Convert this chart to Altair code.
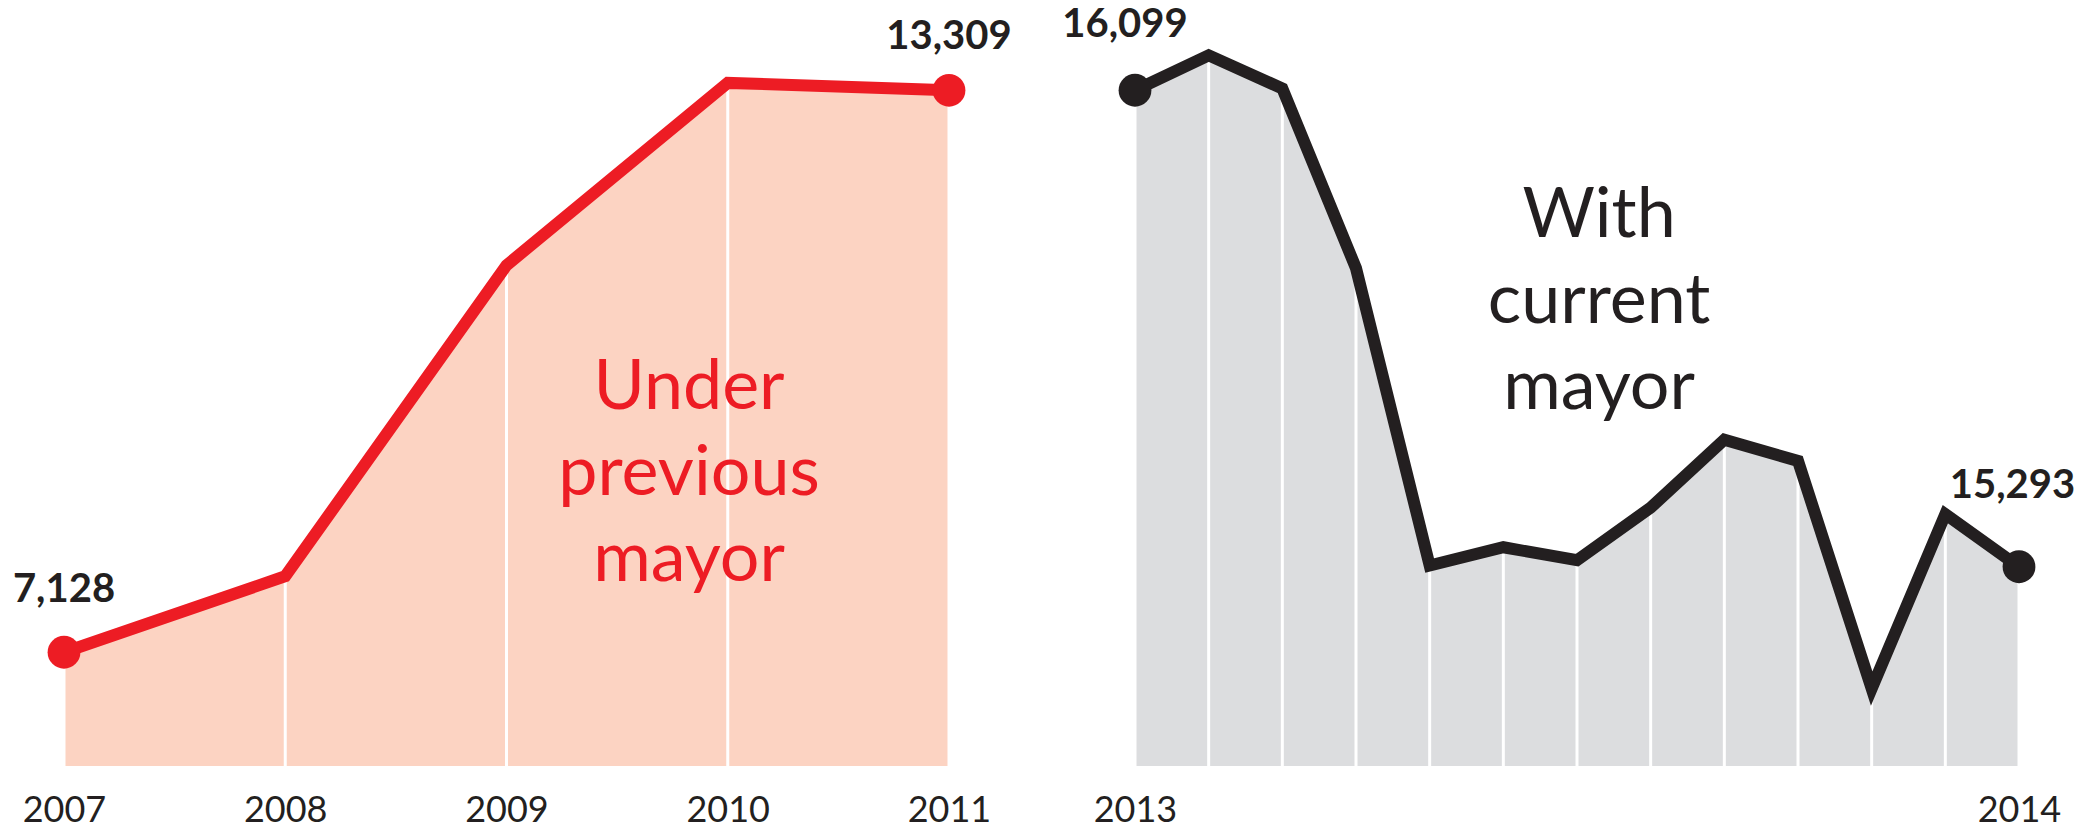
import altair as alt
import pandas as pd

# ---------------- data ----------------
left_years = [2007, 2008, 2009, 2010, 2011]
left_values = [7128, 7964, 11384, 13390, 13309]
left_tick_labels = ["2007", "2008", "2009", "2010", "2011"]

right_index = list(range(13))
right_values = [16099, 16158, 16102, 15798, 15295, 15326, 15304,
                15393, 15508, 15472, 15087, 15382, 15293]
right_tick_positions = [0, 12]
right_tick_labels = ["2013", "2014"]

left_note = "Under\nprevious\nmayor"
right_note = "With\ncurrent\nmayor"
left_note_pos = [2009.825, 9800]
right_note_pos = [6.3, 15850]

left_y_domain = [5877, 13862]
right_y_domain = [14956, 16184]

RED = "#ED1C24"
PEACH = "#FCD3C2"
BLACK = "#231F20"
GREY = "#DCDDDF"
FONT = "Lato"


def panel(xs, vals, x_domain, y_domain, width, line_color, fill_color,
          axis, label_offsets, note_text, note_pos, note_color):
    df = pd.DataFrame({"x": xs, "value": vals})
    x = alt.X("x:Q", scale=alt.Scale(domain=x_domain, nice=False, zero=False),
              axis=axis, title=None)
    y = alt.Y("value:Q", scale=alt.Scale(domain=y_domain, nice=False, zero=False),
              axis=None, title=None)
    base = alt.Chart(df)
    area = base.mark_area(color=fill_color, opacity=1).encode(
        x=x, y=y, y2=alt.datum(y_domain[0]))
    rules = base.mark_rule(color="white", strokeWidth=3).encode(
        x=x, y=y, y2=alt.datum(y_domain[0]))
    line = base.mark_line(color=line_color, strokeWidth=12, strokeJoin="miter",
                          strokeMiterLimit=10).encode(x=x, y=y)
    ends = pd.DataFrame({"x": [xs[0], xs[-1]], "value": [vals[0], vals[-1]]})
    dots = alt.Chart(ends).mark_circle(size=1075, color=line_color, opacity=1).encode(x=x, y=y)
    layers = [area, rules, line, dots]
    for i, (dx, dy) in enumerate(label_offsets):
        one = ends.iloc[[i]]
        layers.append(
            alt.Chart(one).mark_text(font=FONT, fontWeight="bold", fontSize=40,
                                     color=BLACK, align="center", baseline="alphabetic",
                                     dx=dx, dy=dy).encode(
                x=x, y=y, text=alt.Text("value:Q", format=","))
        )
    note_df = pd.DataFrame({"x": [note_pos[0]], "value": [note_pos[1]], "t": [note_text]})
    layers.append(
        alt.Chart(note_df).mark_text(font=FONT, fontSize=70, lineHeight=86, lineBreak="\n",
                                     color=note_color, align="center",
                                     baseline="alphabetic").encode(x=x, y=y, text="t:N")
    )
    return alt.layer(*layers).properties(width=width, height=726)


axis_common = dict(domain=False, ticks=False, tickSize=0, grid=False, labelFont=FONT,
                   labelFontSize=36, labelColor=BLACK, labelPadding=27,
                   labelFlush=False, labelOverlap=False)

left_axis = alt.Axis(values=left_years, format="d", **axis_common)
right_expr = " : ".join(
    [f"datum.value == {p} ? '{l}'" for p, l in zip(right_tick_positions[:-1], right_tick_labels[:-1])]
    + [f"'{right_tick_labels[-1]}'"])
right_axis = alt.Axis(values=right_tick_positions, labelExpr=right_expr, **axis_common)

left = panel(left_years, left_values, [left_years[0], left_years[-1]], left_y_domain, 885,
             RED, PEACH, left_axis, [(0, -50), (0, -41)], left_note, left_note_pos, RED)
right = panel(right_index, right_values, [right_index[0], right_index[-1]], right_y_domain, 884,
              BLACK, GREY, right_axis, [(-10, -53), (-6.5, -69)], right_note, right_note_pos, BLACK)

chart = (
    alt.hconcat(left, right, spacing=186, bounds="flush")
    .properties(padding={"left": -4, "top": -13, "right": 0, "bottom": 0})
    .configure(background="white")
    .configure_view(strokeWidth=0, strokeOpacity=0)
)

chart.save("out.html", embed_options={"renderer": "svg", "actions": False})
